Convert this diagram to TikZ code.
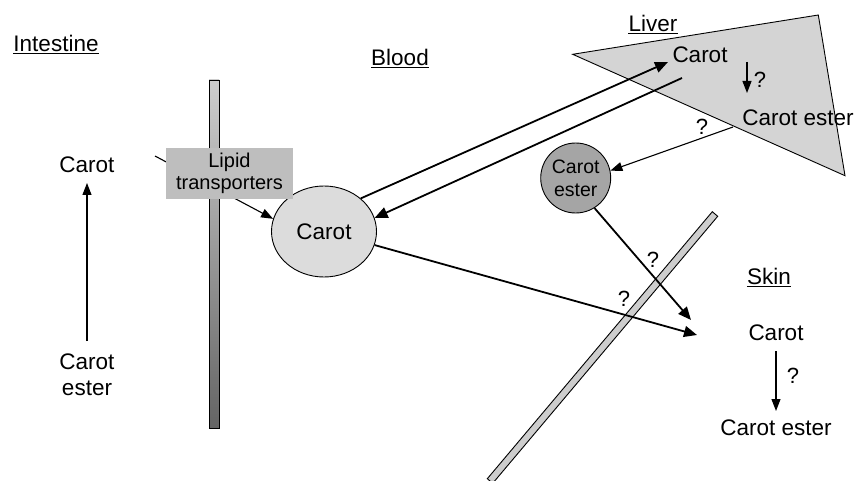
\documentclass[tikz,border=0pt]{standalone}
\usepackage{fontspec}
\setmainfont{Liberation Sans}
\usetikzlibrary{arrows.meta,shapes.geometric}
\definecolor{bloodfill}{RGB}{220,220,220}
\definecolor{esterfill}{RGB}{165,165,165}
\definecolor{liverfill}{RGB}{212,212,212}
\definecolor{boxfill}{RGB}{190,190,190}
\definecolor{skinbar}{RGB}{205,205,205}
\definecolor{bartop}{RGB}{205,205,205}
\definecolor{barbot}{RGB}{100,100,100}
\tikzset{
  txt/.style={inner sep=0pt, font=\fontsize{22.5}{26}\selectfont, align=center},
  qm/.style={inner sep=0pt, font=\fontsize{22}{26}\selectfont},
  heading/.style={txt},
  uline/.style={line width=1.6pt},
  thickarr/.style={line width=1.8pt, -{Triangle[length=13pt,width=11pt]}},
  thinarr/.style={line width=1.1pt, -{Triangle[length=12pt,width=9pt]}},
  outline/.style={draw=black, line width=0.9pt},
}
\begin{document}
\begin{tikzpicture}[x=1pt,y=-1pt]
\useasboundingbox (0,0) rectangle (856,481);

% headings
\node[heading] (intl) at (56,43) {Intestine};
\node[heading] (bldl) at (400,57) {Blood};
\node[heading] (livl) at (653,23) {Liver};
\node[heading] (sknl) at (769,276) {Skin};
\draw[uline] ([yshift=-2.5pt]intl.base west) -- ([yshift=-2.5pt]intl.base east);
\draw[uline] ([yshift=-2.5pt]bldl.base west) -- ([yshift=-2.5pt]bldl.base east);
\draw[uline] ([yshift=-2.5pt]livl.base west) -- ([yshift=-2.5pt]livl.base east);
\draw[uline] ([yshift=-2.5pt]sknl.base west) -- ([yshift=-2.5pt]sknl.base east);

% intestine
\node[txt] (icar) at (87,165) {Carot};
\node[txt] (iest) at (87,375) {Carot\\ester};
\coordinate (iup0) at (87,341);
\coordinate (iup1) at (87,183);
\draw[thinarr] (iup0) -- (iup1);

% intestinal wall
\path[outline, top color=bartop, bottom color=barbot] (209,80) rectangle (219,428);

% blood carotenoid
\node[ellipse, outline, fill=bloodfill, minimum width=105pt, minimum height=91pt, inner sep=0pt,
      font=\fontsize{22.5}{26}\selectfont] (bcar) at (324,231.5) {Carot};

% absorption line
\coordinate (istart) at (155,156);
\draw[thinarr] (istart) -- (bcar.166);

% lipid transporters
\node[fill=boxfill, minimum width=127pt, minimum height=51pt, inner sep=0pt, align=center,
      font=\fontsize{20}{22}\selectfont] (lipid) at (229.5,173.5) {Lipid\\transporters};

% liver
\path[outline, fill=liverfill] (572.7,54.3) coordinate (lv1) -- (818.3,15) coordinate (lv2)
     -- (845,175.7) coordinate (lv3) -- cycle;
\node[txt] (lcar) at (700,55) {Carot};
\node[txt] (lest) at (798,118) {Carot ester};
\coordinate (ld0) at (747,62);
\coordinate (ld1) at (747,93);
\draw[thinarr] (ld0) -- (ld1);
\node[qm] (q1) at (760,80) {?};

% skin barrier
\path[outline, fill=skinbar] (712.3,211.7) -- (717.7,216.3) -- (492.7,483.3) -- (487.3,478.7) -- cycle;

% carot ester in blood
\node[circle, outline, fill=esterfill, minimum size=70pt, inner sep=0pt, align=center,
      font=\fontsize{19.5}{23}\selectfont] (cest) at (575.7,178) {Carot\\ester};

% blood <-> liver
\coordinate (lvin) at (668,62);
\coordinate (lvout) at (682,78);
\draw[thickarr] (bcar.42) -- (lvin);
\draw[thickarr] (lvout) -- (bcar.15);

% liver -> carot ester
\coordinate (lvest) at (733,127);
\draw[thinarr] (lvest) -- (cest.12);
\node[qm] (q2) at (702,127) {?};

% skin
\node[txt] (scar) at (776,333) {Carot};
\node[txt] (sest) at (776,428) {Carot ester};
\coordinate (sk1) at (691,320);
\coordinate (sk2) at (697,335);
\draw[thickarr] (cest.-58) -- (sk1);
\node[qm] (q3) at (653,260) {?};
\draw[thickarr] (bcar.-15) -- (sk2);
\node[qm] (q4) at (624,299) {?};
\coordinate (sd0) at (776,351);
\coordinate (sd1) at (776,411);
\draw[thinarr] (sd0) -- (sd1);
\node[qm] (q5) at (793,376) {?};
\end{tikzpicture}
\end{document}
